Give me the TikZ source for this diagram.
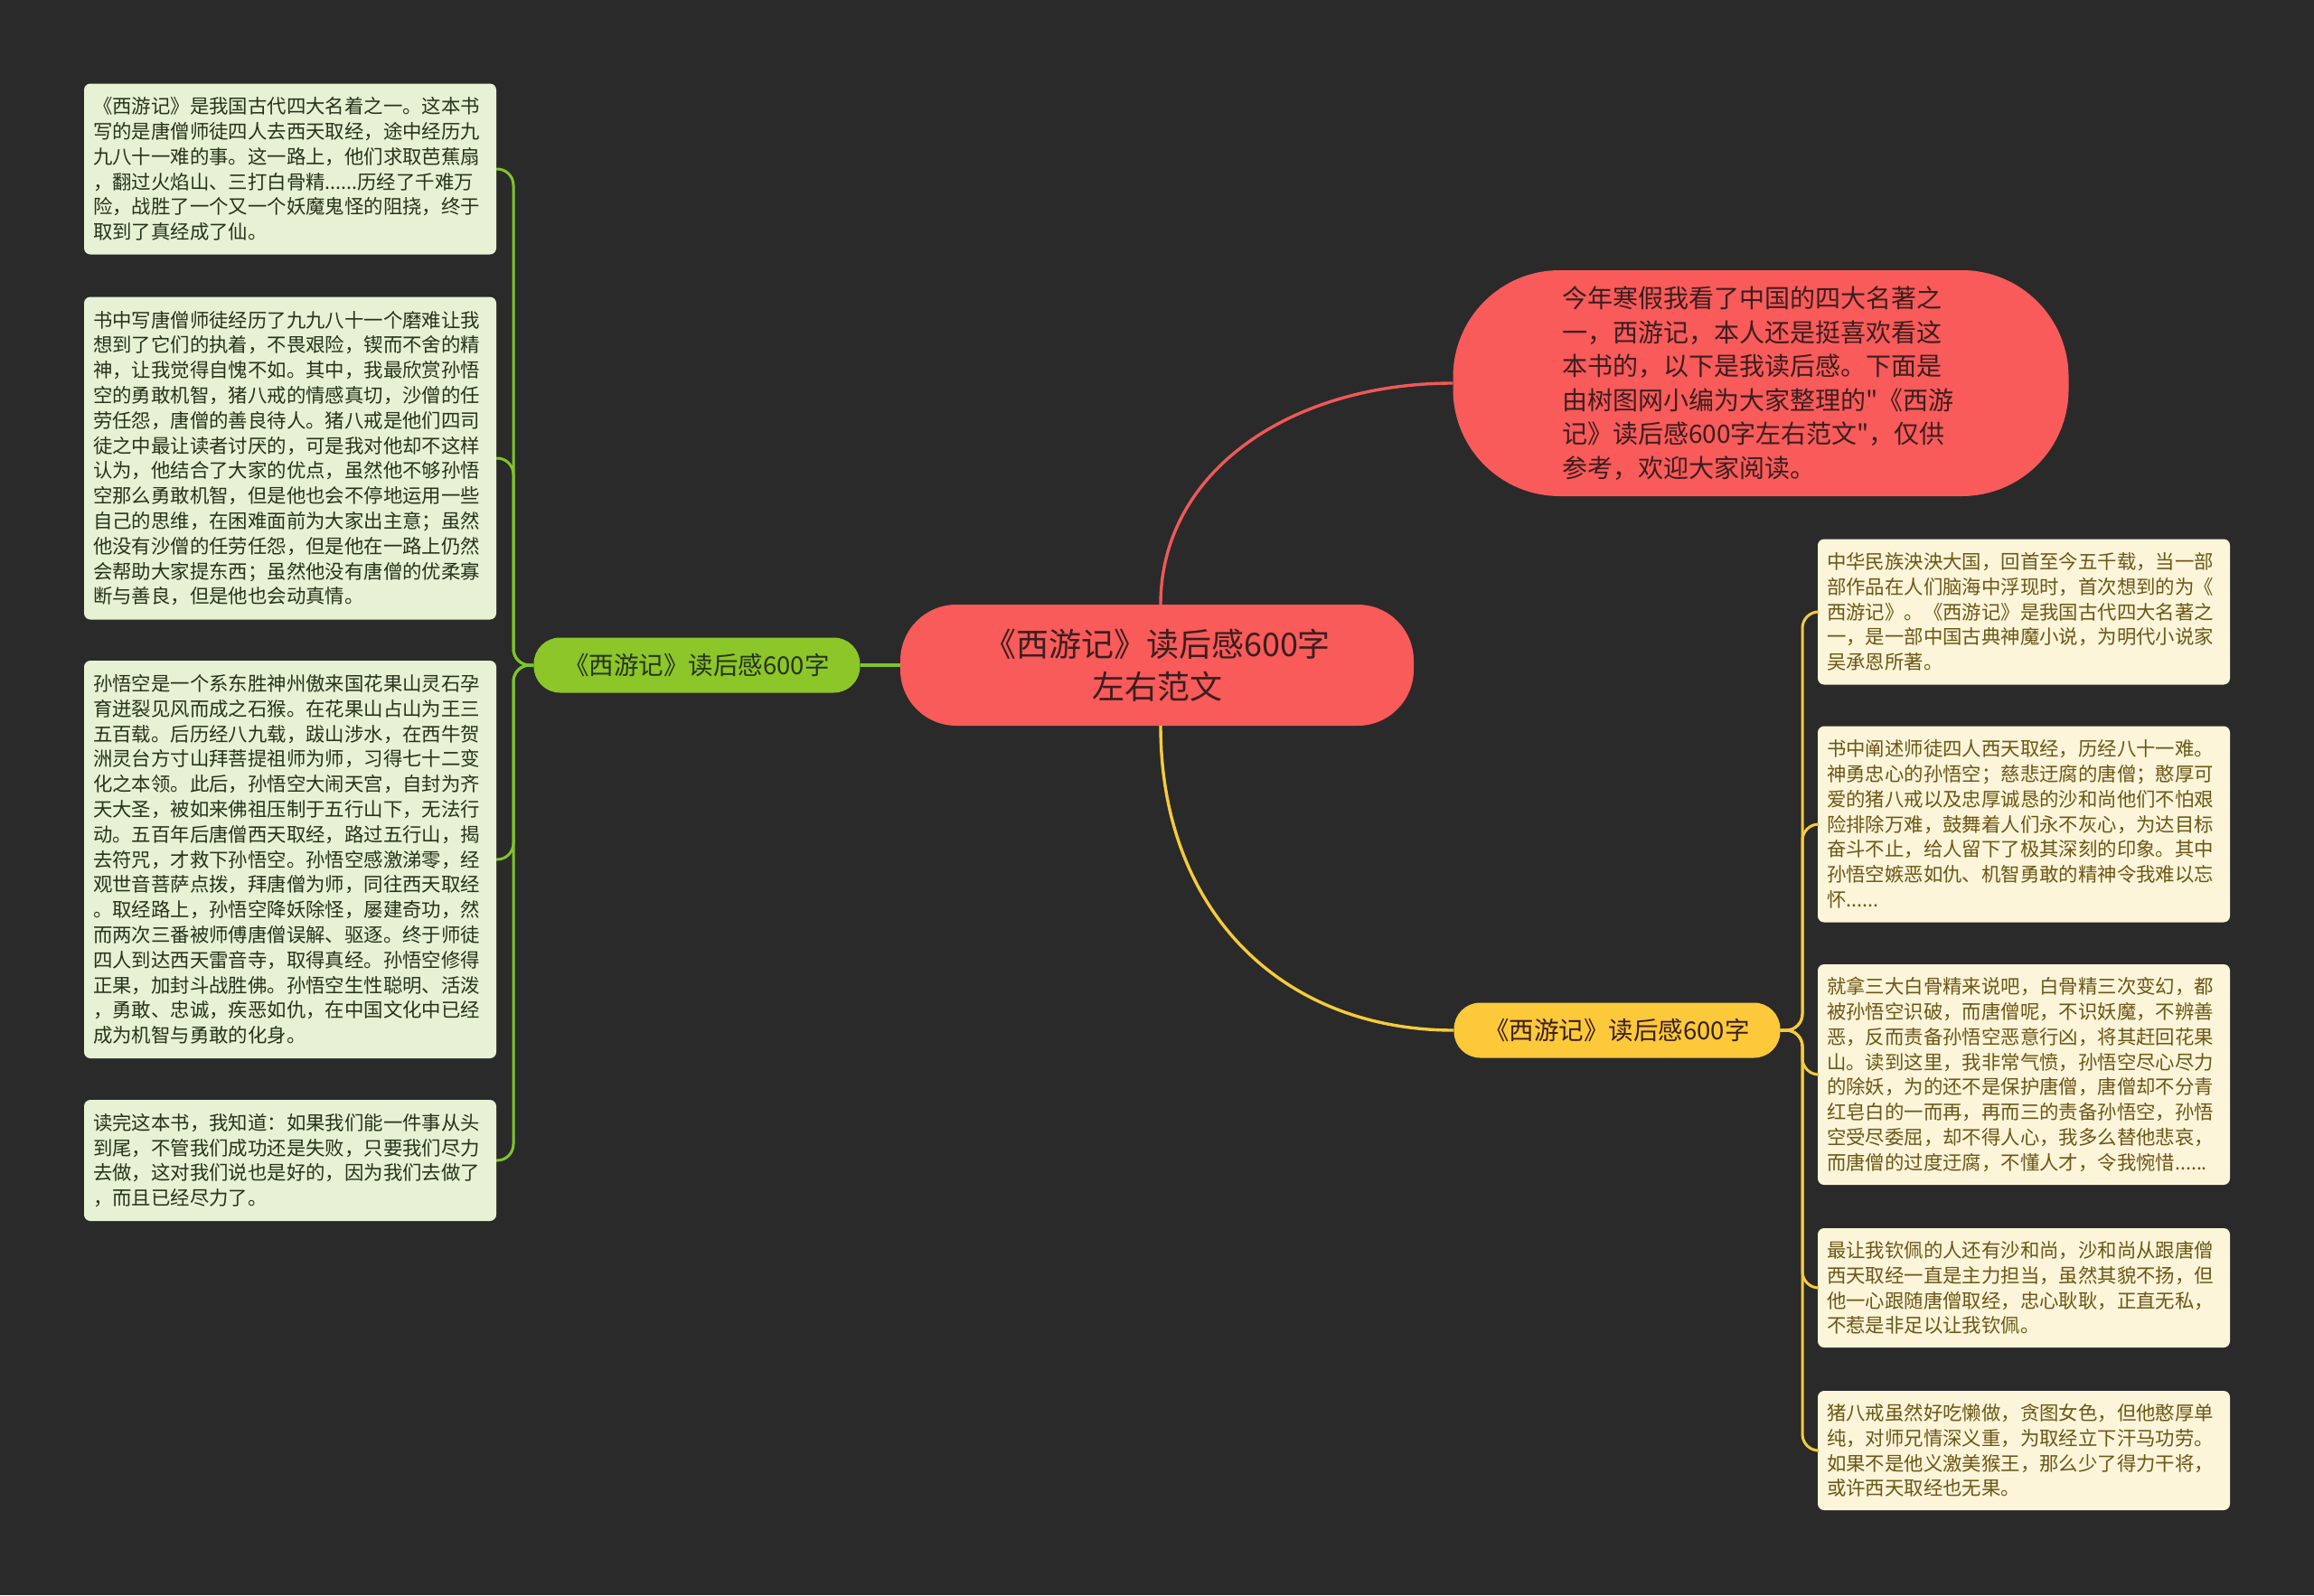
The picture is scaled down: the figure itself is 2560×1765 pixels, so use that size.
\documentclass[tikz,border=0pt]{standalone}
\usepackage{fontspec}
\setmainfont{Noto Sans CJK SC}
\newfontfamily\plainfont{Noto Sans CJK SC}
\newcommand{\strqt}{{\plainfont"}}
\definecolor{bgc}{HTML}{2A2A2A}
\definecolor{redfill}{HTML}{F95A5A}
\definecolor{greenfill}{HTML}{8CC629}
\definecolor{yellowfill}{HTML}{FCC93A}
\definecolor{greenline}{HTML}{7FC52A}
\definecolor{yellowline}{HTML}{F6CB3C}
\definecolor{redline}{HTML}{F05858}
\definecolor{lboxfill}{HTML}{E7F2D5}
\definecolor{rboxfill}{HTML}{FDF5DA}
\definecolor{ltext}{HTML}{26331B}
\definecolor{rtext}{HTML}{6B5716}
\definecolor{redtext}{HTML}{3A1E1E}
\tikzset{
  lbox/.style={fill=lboxfill, rounded corners=7pt, text=ltext, text width=436pt, inner xsep=10pt, inner ysep=0pt, align=left, minimum width=456pt, font=\fontsize{21.4pt}{27.8pt}\selectfont},
  rbox/.style={fill=rboxfill, rounded corners=7pt, text=rtext, text width=436pt, inner xsep=10pt, inner ysep=0pt, align=left, minimum width=456pt, font=\fontsize{21.4pt}{27.8pt}\selectfont},
  pill/.style={rounded corners=29pt, minimum width=361pt, minimum height=61pt, inner sep=0pt, align=center, font=\fontsize{27.5pt}{34pt}\selectfont},
  gline/.style={draw=greenline, line width=3pt, rounded corners=18pt},
  yline/.style={draw=yellowline, line width=3pt, rounded corners=18pt},
}
\begin{document}
\begin{tikzpicture}[x=1pt,y=-1pt]
\fill[bgc] (0,0) rectangle (2560,1765);
\useasboundingbox (0,0) rectangle (2560,1765);

% central node
\node[fill=redfill, rounded corners=62pt, minimum width=568pt, minimum height=134pt, inner sep=0pt, align=center, text=redtext, font=\fontsize{36pt}{47pt}\selectfont] (cn) at (1280,736) {《西游记》读后感600字\\左右范文};

% top red node
\node[fill=redfill, rounded corners=118pt, minimum width=681pt, minimum height=250pt, inner sep=0pt, text width=440pt, align=left, text=redtext, font=\fontsize{28pt}{37.5pt}\selectfont] (tn) at (1948,424) {今年寒假我看了中国的四大名著之\\一，西游记，本人还是挺喜欢看这\\本书的，以下是我读后感。下面是\\由树图网小编为大家整理的\strqt《西游\\记》读后感600字左右范文\strqt，仅供\\参考，欢迎大家阅读。};

% green and yellow nodes
\node[pill, fill=greenfill, text=ltext] (gn) at (771,736) {《西游记》读后感600字};
\node[pill, fill=yellowfill, text=redtext] (yn) at (1789,1140) {《西游记》读后感600字};

% left boxes
\node[lbox, minimum height=189pt] (l1) at (321,187) {《西游记》是我国古代四大名着之一。这本书\\写的是唐僧师徒四人去西天取经，途中经历九\\九八十一难的事。这一路上，他们求取芭蕉扇\\，翻过火焰山、三打白骨精......历经了千难万\\险，战胜了一个又一个妖魔鬼怪的阻挠，终于\\取到了真经成了仙。};
\node[lbox, minimum height=357pt] (l2) at (321,507) {书中写唐僧师徒经历了九九八十一个磨难让我\\想到了它们的执着，不畏艰险，锲而不舍的精\\神，让我觉得自愧不如。其中，我最欣赏孙悟\\空的勇敢机智，猪八戒的情感真切，沙僧的任\\劳任怨，唐僧的善良待人。猪八戒是他们四司\\徒之中最让读者讨厌的，可是我对他却不这样\\认为，他结合了大家的优点，虽然他不够孙悟\\空那么勇敢机智，但是他也会不停地运用一些\\自己的思维，在困难面前为大家出主意；虽然\\他没有沙僧的任劳任怨，但是他在一路上仍然\\会帮助大家提东西；虽然他没有唐僧的优柔寡\\断与善良，但是他也会动真情。};
\node[lbox, minimum height=440pt] (l3) at (321,951) {孙悟空是一个系东胜神州傲来国花果山灵石孕\\育迸裂见风而成之石猴。在花果山占山为王三\\五百载。后历经八九载，跋山涉水，在西牛贺\\洲灵台方寸山拜菩提祖师为师，习得七十二变\\化之本领。此后，孙悟空大闹天宫，自封为齐\\天大圣，被如来佛祖压制于五行山下，无法行\\动。五百年后唐僧西天取经，路过五行山，揭\\去符咒，才救下孙悟空。孙悟空感激涕零，经\\观世音菩萨点拨，拜唐僧为师，同往西天取经\\。取经路上，孙悟空降妖除怪，屡建奇功，然\\而两次三番被师傅唐僧误解、驱逐。终于师徒\\四人到达西天雷音寺，取得真经。孙悟空修得\\正果，加封斗战胜佛。孙悟空生性聪明、活泼\\，勇敢、忠诚，疾恶如仇，在中国文化中已经\\成为机智与勇敢的化身。};
\node[lbox, minimum height=134pt] (l4) at (321,1284) {读完这本书，我知道：如果我们能一件事从头\\到尾，不管我们成功还是失败，只要我们尽力\\去做，这对我们说也是好的，因为我们去做了\\，而且已经尽力了。};

% right boxes
\node[rbox, minimum height=161pt] (r1) at (2239,677) {中华民族泱泱大国，回首至今五千载，当一部\\部作品在人们脑海中浮现时，首次想到的为《\\西游记》。《西游记》是我国古代四大名著之\\一，是一部中国古典神魔小说，为明代小说家\\吴承恩所著。};
\node[rbox, minimum height=217pt] (r2) at (2239,912) {书中阐述师徒四人西天取经，历经八十一难。\\神勇忠心的孙悟空；慈悲迂腐的唐僧；憨厚可\\爱的猪八戒以及忠厚诚恳的沙和尚他们不怕艰\\险排除万难，鼓舞着人们永不灰心，为达目标\\奋斗不止，给人留下了极其深刻的印象。其中\\孙悟空嫉恶如仇、机智勇敢的精神令我难以忘\\怀......};
\node[rbox, minimum height=244pt] (r3) at (2239,1189) {就拿三大白骨精来说吧，白骨精三次变幻，都\\被孙悟空识破，而唐僧呢，不识妖魔，不辨善\\恶，反而责备孙悟空恶意行凶，将其赶回花果\\山。读到这里，我非常气愤，孙悟空尽心尽力\\的除妖，为的还不是保护唐僧，唐僧却不分青\\红皂白的一而再，再而三的责备孙悟空，孙悟\\空受尽委屈，却不得人心，我多么替他悲哀，\\而唐僧的过度迂腐，不懂人才，令我惋惜......};
\node[rbox, minimum height=132pt] (r4) at (2239,1425) {最让我钦佩的人还有沙和尚，沙和尚从跟唐僧\\西天取经一直是主力担当，虽然其貌不扬，但\\他一心跟随唐僧取经，忠心耿耿，正直无私，\\不惹是非足以让我钦佩。};
\node[rbox, minimum height=132pt] (r5) at (2239,1605) {猪八戒虽然好吃懒做，贪图女色，但他憨厚单\\纯，对师兄情深义重，为取经立下汗马功劳。\\如果不是他义激美猴王，那么少了得力干将，\\或许西天取经也无果。};

% connectors from central node
\coordinate (cntop) at (1284,669);
\coordinate (cnbot) at (1284,803);
\draw[draw=redline, line width=3.4pt] (cntop) .. controls (1284,520) and (1430,424) .. (tn.west);
\draw[draw=yellowline, line width=3.4pt] (cnbot) .. controls (1284,1010) and (1420,1140) .. (yn.west);
\draw[draw=greenline, line width=3.4pt] (cn.west) -- (gn.east);

% left branches
\coordinate (gj) at (568,736);
\draw[gline] (gn.west) -- (gj) |- (l1.east);
\draw[gline] (gn.west) -- (gj) |- (l2.east);
\draw[gline] (gn.west) -- (gj) |- (l3.east);
\draw[gline] (gn.west) -- (gj) |- (l4.east);

% right branches
\coordinate (yj) at (1994,1140);
\draw[yline] (yn.east) -- (yj) |- (r1.west);
\draw[yline] (yn.east) -- (yj) |- (r2.west);
\draw[yline] (yn.east) -- (yj) |- (r3.west);
\draw[yline] (yn.east) -- (yj) |- (r4.west);
\draw[yline] (yn.east) -- (yj) |- (r5.west);
\end{tikzpicture}
\end{document}
